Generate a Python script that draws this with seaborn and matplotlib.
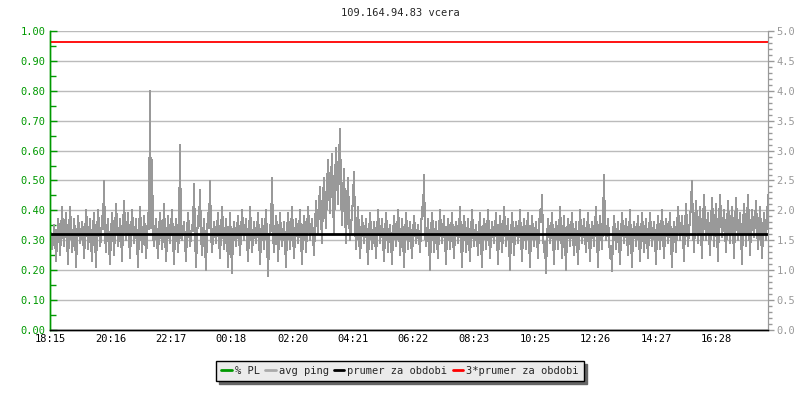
import pandas as pd
import matplotlib
matplotlib.use("Agg")
import matplotlib.pyplot as plt
from matplotlib.lines import Line2D
from matplotlib.ticker import MultipleLocator, FormatStrFormatter
import seaborn as sns

title = "109.164.94.83 vcera"

# casove znacky (minuty od 18:15) a jejich popisky
tick_minutes = [0, 121, 242, 363, 485, 606, 727, 848, 970, 1091, 1212, 1333]
tick_labels = ["18:15", "20:16", "22:17", "00:18", "02:20", "04:21",
               "06:22", "08:23", "10:25", "12:26", "14:27", "16:28"]

step_min = 2  # jeden vzorek kazde 2 minuty

# avg ping [ms]
avg_ping = [
    1.55, 1.62, 1.35, 1.48, 1.75, 1.60, 1.15, 1.52, 1.85, 1.70, 1.25, 1.58, 2.05, 1.66, 1.40, 1.72, 1.95, 1.55, 1.10, 1.64,
    2.05, 1.74, 1.30, 1.50, 1.85, 1.62, 1.05, 1.46, 1.90, 1.70, 1.45, 1.58, 1.80, 1.66, 1.20, 1.54, 2.00, 1.78, 1.35, 1.60,
    1.85, 1.48, 1.15, 1.70, 1.95, 1.56, 1.05, 1.62, 2.00, 1.74, 1.40, 1.52, 1.90, 1.68, 2.50, 1.60, 1.30, 1.66, 1.85, 1.44,
    1.10, 1.58, 1.95, 1.72, 1.25, 1.64, 2.10, 1.80, 1.40, 1.56, 1.85, 1.62, 1.15, 1.70, 2.15, 1.76, 1.50, 1.66, 1.95, 1.58,
    1.20, 1.62, 2.00, 1.74, 1.45, 1.60, 1.85, 1.50, 1.05, 1.66, 2.05, 1.70, 1.30, 1.56, 1.90, 1.64, 1.20, 1.52, 1.95, 1.68,
    4.00, 1.70, 2.85, 1.60, 1.40, 1.62, 1.85, 1.54, 1.20, 1.66, 1.95, 1.72, 1.35, 1.58, 2.10, 1.64, 1.15, 1.50, 1.90, 1.62,
    1.45, 1.72, 2.00, 1.56, 1.10, 1.60, 1.85, 1.66, 1.30, 1.62, 3.10, 1.58, 1.50, 1.68, 1.80, 1.48, 1.15, 1.64, 1.95, 1.70,
    1.40, 1.58, 1.75, 1.66, 2.45, 1.60, 1.05, 1.52, 1.90, 1.74, 2.35, 1.62, 1.25, 1.56, 1.85, 1.46, 1.00, 1.60, 1.95, 1.70,
    2.50, 1.64, 1.30, 1.58, 1.80, 1.66, 1.45, 1.70, 1.95, 1.54, 1.20, 1.62, 2.05, 1.72, 1.35, 1.56, 1.85, 1.60, 1.05, 1.50,
    1.95, 1.48, 0.95, 1.58, 1.80, 1.62, 1.40, 1.68, 1.90, 1.56, 1.25, 1.64, 2.00, 1.74, 1.50, 1.66, 1.85, 1.52, 1.15, 1.60,
    2.05, 1.70, 1.30, 1.56, 1.80, 1.62, 1.45, 1.66, 1.95, 1.58, 1.10, 1.52, 1.85, 1.64, 1.35, 1.70, 2.00, 1.54, 0.90, 1.48,
    1.75, 1.66, 2.55, 1.62, 1.30, 1.58, 1.90, 1.72, 1.15, 1.56, 1.95, 1.64, 1.40, 1.60, 1.80, 1.50, 1.05, 1.62, 1.95, 1.68,
    1.35, 1.66, 2.05, 1.60, 1.20, 1.58, 1.85, 1.70, 1.45, 1.64, 2.00, 1.56, 1.10, 1.62, 1.90, 1.72, 1.30, 1.66, 2.05, 1.78,
    1.50, 1.70, 1.85, 1.58, 1.25, 1.74, 2.15, 1.86, 1.60, 2.10, 2.40, 1.95, 1.45, 2.20, 2.55, 2.05, 1.70, 2.35, 2.85, 2.40,
    1.95, 2.50, 2.95, 2.20, 1.60, 2.45, 3.05, 2.60, 2.10, 2.80, 3.37, 2.30, 1.75, 2.25, 2.70, 2.00, 1.45, 2.10, 2.55, 1.90,
    1.50, 1.72, 1.95, 2.20, 2.65, 1.80, 1.35, 1.70, 2.05, 1.62, 1.20, 1.56, 1.90, 1.68, 1.45, 1.64, 1.85, 1.52, 1.10, 1.60,
    1.95, 1.68, 1.35, 1.56, 1.80, 1.62, 1.20, 1.58, 2.00, 1.72, 1.45, 1.66, 1.85, 1.54, 1.15, 1.60, 1.95, 1.70, 1.30, 1.64,
    1.75, 1.50, 1.10, 1.58, 1.90, 1.66, 1.40, 1.62, 2.00, 1.74, 1.25, 1.52, 1.85, 1.60, 1.05, 1.56, 1.95, 1.70, 1.35, 1.62,
    1.80, 1.54, 1.20, 1.62, 1.90, 1.68, 1.45, 1.60, 1.75, 1.56, 1.30, 1.66, 2.05, 1.90, 2.60, 1.64, 1.40, 1.58, 1.85, 1.50,
    1.00, 1.62, 1.95, 1.72, 1.30, 1.60, 1.80, 1.52, 1.20, 1.66, 2.00, 1.70, 1.45, 1.64, 1.90, 1.56, 1.10, 1.60, 1.85, 1.66,
    1.35, 1.62, 1.95, 1.58, 1.20, 1.64, 1.80, 1.70, 1.45, 1.66, 2.05, 1.56, 1.05, 1.60, 1.90, 1.72, 1.30, 1.58, 1.85, 1.52,
    1.15, 1.62, 2.00, 1.68, 1.40, 1.60, 1.75, 1.54, 1.25, 1.66, 1.95, 1.50, 1.05, 1.62, 1.85, 1.70, 1.35, 1.64, 2.00, 1.66,
    1.20, 1.56, 1.80, 1.64, 1.45, 1.70, 1.95, 1.58, 1.10, 1.62, 1.90, 1.66, 1.30, 1.60, 2.05, 1.72, 1.40, 1.64, 1.85, 1.48,
    1.00, 1.56, 1.95, 1.68, 1.25, 1.62, 1.80, 1.70, 1.45, 1.66, 2.00, 1.58, 1.15, 1.60, 1.85, 1.64, 1.35, 1.70, 1.95, 1.54,
    1.05, 1.58, 1.90, 1.66, 1.40, 1.62, 1.80, 1.56, 1.20, 1.70, 2.00, 1.80, 2.25, 1.60, 1.30, 1.48, 0.95, 1.54, 1.85, 1.66,
    1.45, 1.62, 1.95, 1.58, 1.10, 1.60, 1.80, 1.68, 1.35, 1.64, 2.05, 1.70, 1.20, 1.58, 1.90, 1.52, 1.00, 1.60, 1.85, 1.66,
    1.40, 1.66, 1.95, 1.60, 1.25, 1.58, 1.80, 1.52, 1.10, 1.62, 2.00, 1.70, 1.45, 1.64, 1.85, 1.56, 1.30, 1.66, 1.95, 1.58,
    1.15, 1.60, 1.80, 1.68, 1.40, 1.72, 2.05, 1.54, 1.05, 1.62, 1.90, 1.66, 1.35, 1.80, 2.60, 1.70, 1.50, 1.64, 1.85, 1.58,
    1.20, 1.40, 0.99, 1.56, 1.90, 1.64, 1.35, 1.60, 1.80, 1.52, 1.10, 1.58, 1.95, 1.70, 1.45, 1.66, 1.85, 1.60, 1.25, 1.62,
    2.00, 1.54, 1.05, 1.58, 1.80, 1.66, 1.40, 1.64, 1.90, 1.56, 1.15, 1.60, 1.95, 1.68, 1.30, 1.62, 1.85, 1.54, 1.20, 1.64,
    1.95, 1.68, 1.40, 1.62, 1.80, 1.56, 1.10, 1.60, 1.90, 1.66, 1.35, 1.64, 2.00, 1.58, 1.20, 1.62, 1.85, 1.70, 1.45, 1.66,
    1.95, 1.52, 1.05, 1.60, 1.80, 1.64, 1.30, 1.70, 2.05, 1.76, 1.50, 1.68, 1.90, 1.58, 1.15, 1.72, 2.10, 1.74, 1.40, 1.66,
    1.85, 2.10, 2.50, 1.70, 1.30, 1.76, 2.15, 1.82, 1.45, 1.74, 2.05, 1.66, 1.20, 1.80, 2.25, 1.86, 1.50, 1.72, 1.95, 1.64,
    1.25, 1.78, 2.20, 1.84, 1.40, 1.76, 2.10, 1.62, 1.15, 1.80, 2.25, 1.88, 1.55, 1.76, 2.00, 1.68, 1.30, 1.74, 2.15, 1.80,
    1.45, 1.78, 2.05, 1.70, 1.20, 1.76, 2.20, 1.84, 1.50, 1.72, 1.95, 1.60, 1.10, 1.74, 2.10, 1.80, 1.40, 1.82, 2.25, 1.76,
    1.25, 1.68, 2.00, 1.80, 1.55, 1.84, 2.15, 1.72, 1.35, 1.70, 2.05, 1.66, 1.20, 1.62, 1.95, 1.74, 1.50, 1.86, 2.25, 2.00,
]

prumer = 1.605  # prumer za obdobi [ms]

sns.set_style("white")
plt.rcParams["font.family"] = ["DejaVu Sans Mono", "DejaVu Sans"]
plt.rcParams["font.size"] = 7.5

df = pd.DataFrame({"minute": [i * step_min for i in range(len(avg_ping))],
                   "ping": avg_ping})

fig = plt.figure(figsize=(8, 4), dpi=100)
ax_pl = fig.add_axes([50 / 800, 70 / 400, 718 / 800, 299 / 400])
ax = ax_pl.twinx()

# leva osa: % PL
ax_pl.set_ylim(0, 1)
ax_pl.yaxis.set_major_locator(MultipleLocator(0.1))
ax_pl.yaxis.set_minor_locator(MultipleLocator(0.05))
ax_pl.yaxis.set_major_formatter(FormatStrFormatter("%.2f"))
ax_pl.tick_params(axis="y", which="both", direction="in", colors="#009900",
                  labelcolor="#009900", labelsize=7.5, pad=3)
ax_pl.tick_params(axis="y", which="major", length=5, width=1)
ax_pl.tick_params(axis="y", which="minor", length=4, width=1)
ax_pl.grid(axis="y", which="major", color="#bbbbbb", linewidth=1)
ax_pl.set_axisbelow(True)

# prava osa: ping
ax.set_ylim(0, 5)
ax.yaxis.set_major_locator(MultipleLocator(0.5))
ax.yaxis.set_minor_locator(MultipleLocator(0.1))
ax.yaxis.set_major_formatter(FormatStrFormatter("%.1f"))
ax.tick_params(axis="y", which="both", direction="out", colors="#999999",
               labelcolor="#999999", labelsize=7.5, pad=2)
ax.tick_params(axis="y", which="major", length=4, width=1)
ax.tick_params(axis="y", which="minor", length=3, width=1)

sns.lineplot(data=df, x="minute", y="ping", ax=ax, color="#999999",
             linewidth=0.75, estimator=None, antialiased=False)
ax.axhline(prumer, color="black", linewidth=2)
ax.axhline(3 * prumer, color="#ff0000", linewidth=1.3)

x_end = 1436
ax_pl.set_xlim(0, x_end)
ax.set_xlim(0, x_end)
ax_pl.set_xticks(tick_minutes)
ax_pl.set_xticklabels(tick_labels)
ax_pl.tick_params(axis="x", direction="in", length=5, width=1, colors="black",
                  labelsize=7.5, pad=3)
ax.set_xlabel("")
ax.set_ylabel("")
ax_pl.set_xlabel("")
ax_pl.set_ylabel("")

for a in (ax_pl, ax):
    a.spines["top"].set_visible(False)
    a.spines["left"].set_color("#009900")
    a.spines["right"].set_color("#999999")
    a.spines["bottom"].set_color("black")
    a.spines["left"].set_linewidth(1)
    a.spines["bottom"].set_linewidth(1)

fig.text(0.5, 1 - 13 / 400, title, ha="center", va="center", fontsize=7.5)

handles = [
    Line2D([], [], color="#009900", linewidth=2),
    Line2D([], [], color="#aaaaaa", linewidth=2),
    Line2D([], [], color="black", linewidth=2),
    Line2D([], [], color="#ff0000", linewidth=2),
]
labels = ["% PL", "avg ping", "prumer za obdobi", "3*prumer za obdobi"]
leg = fig.legend(handles, labels, loc="center", bbox_to_anchor=(0.5, 1 - 371 / 400),
                 ncol=4, frameon=True, fancybox=False, shadow={"color": "#666666", "alpha": 1},
                 edgecolor="black", facecolor="#ebebeb", fontsize=7.5,
                 handlelength=1.0, handletextpad=0.3, columnspacing=0.5,
                 borderpad=0.5, borderaxespad=0)
leg.get_frame().set_linewidth(1)
leg.get_frame().set_alpha(1)

plt.savefig("out.png", dpi=100)
plt.close()
